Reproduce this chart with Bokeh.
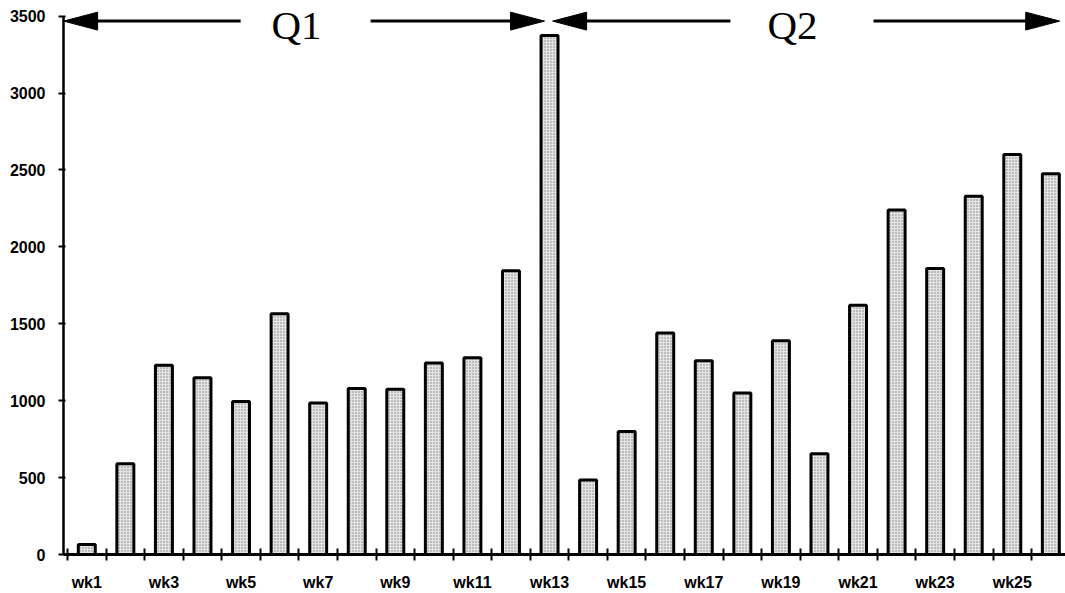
from bokeh.plotting import figure
from bokeh.models import FixedTicker, Range1d
from bokeh.core.properties import value
from bokeh.embed import file_html
from bokeh.resources import INLINE

# Weekly totals
weeks = list(range(1, 27))
week_labels = [f"wk{w}" for w in weeks]
sales = [65, 590, 1230, 1150, 995, 1565, 985, 1080, 1075, 1245, 1280, 1845, 3375,
         485, 800, 1440, 1260, 1050, 1390, 655, 1620, 2240, 1860, 2330, 2600, 2475]

y_ticks = [0, 500, 1000, 1500, 2000, 2500, 3000, 3500]

# Quarter brackets drawn across the top: label, arrow tip left, tip right,
# gap around the label (left shaft end, label centre, right shaft start)
quarters = ["Q1", "Q2"]
q_tip_left = [0.40, 13.08]
q_tip_right = [12.87, 26.23]
q_gap_left = [4.99, 17.69]
q_label_x = [6.44, 19.3]
q_gap_right = [8.36, 21.4]

X0, X1 = 0.396, 26.38
Y0, Y1 = 0, 3576
W, H = 1065, 593
LEFT, TOP, BOTTOM = 63, 4, 37
frame_w = W - LEFT
frame_h = H - TOP - BOTTOM
xu = (X1 - X0) / frame_w   # data units per pixel
yu = (Y1 - Y0) / frame_h

p = figure(width=W, height=H, output_backend="svg", toolbar_location=None,
           x_range=Range1d(X0, X1), y_range=Range1d(Y0, Y1),
           min_border_left=LEFT, min_border_right=0, min_border_top=TOP,
           min_border_bottom=BOTTOM)
p.outline_line_color = None
p.xgrid.visible = False
p.ygrid.visible = False
p.background_fill_color = "white"
p.border_fill_color = "white"

p.vbar(x=weeks, top=sales, width=0.44, bottom=0,
       fill_color="#e3e3e3", line_color="black", line_width=3,
       hatch_pattern="dot", hatch_color="#666666", hatch_scale=3,
       hatch_alpha=0.75, hatch_weight=1)

# Quarter arrows
ay = 3468
hl = 34 * xu
hh = 9 * yu
sx0, sx1, sy = [], [], []
for i in range(len(quarters)):
    sx0 += [q_tip_left[i] + hl * 0.9, q_gap_right[i]]
    sx1 += [q_gap_left[i], q_tip_right[i] - hl * 0.9]
    sy += [ay, ay]
p.segment(x0=sx0, y0=sy, x1=sx1, y1=sy, line_color="black", line_width=3)

hx, hy = [], []
for i in range(len(quarters)):
    tl, tr = q_tip_left[i], q_tip_right[i]
    hx.append([tl, tl + hl, tl + hl])
    hy.append([ay, ay + hh, ay - hh])
    hx.append([tr, tr - hl, tr - hl])
    hy.append([ay, ay + hh, ay - hh])
p.patches(xs=hx, ys=hy, fill_color="black", line_color="black", line_width=1)

p.text(x=q_label_x, y=[ay - 4 * yu] * len(quarters), text=quarters,
       text_font=value("Liberation Serif"), text_font_size="41px",
       text_align="center", text_baseline="middle", text_color="black")

# X axis: labels on odd weeks, small ticks at week boundaries
xa = p.xaxis[0]
xa.ticker = FixedTicker(ticks=weeks[::2],
                        minor_ticks=[w + 0.5 for w in range(0, 26)])
xa.major_label_overrides = {w: lab for w, lab in zip(weeks, week_labels)}
xa.major_tick_in = 0
xa.major_tick_out = 0
xa.minor_tick_in = 6
xa.minor_tick_out = 6
xa.minor_tick_line_width = 2
xa.minor_tick_line_color = "black"
xa.axis_line_width = 3
xa.axis_line_color = "black"
xa.major_label_standoff = 13
xa.major_label_text_font = "Liberation Sans"
xa.major_label_text_font_style = "bold"
xa.major_label_text_font_size = "16px"
xa.major_label_text_color = "black"

ya = p.yaxis[0]
ya.ticker = FixedTicker(ticks=y_ticks)
ya.bounds = (0, 3500)
ya.minor_tick_line_color = None
ya.major_tick_in = 2
ya.major_tick_out = 5
ya.major_tick_line_width = 2
ya.major_tick_line_color = "black"
ya.axis_line_width = 2.5
ya.axis_line_color = "black"
ya.major_label_standoff = 13
ya.major_label_text_font = "Liberation Sans"
ya.major_label_text_font_style = "bold"
ya.major_label_text_font_size = "16px"
ya.major_label_text_color = "black"

open("out.html", "w").write(file_html(p, INLINE))
